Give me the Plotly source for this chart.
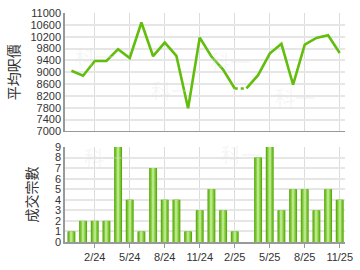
import plotly.graph_objects as go

months = ["12/23", "1/24", "2/24", "3/24", "4/24", "5/24", "6/24", "7/24", "8/24", "9/24",
          "10/24", "11/24", "12/24", "1/25", "2/25", "3/25", "4/25", "5/25", "6/25", "7/25",
          "8/25", "9/25", "10/25", "11/25"]
avg_price = [9050, 8880, 9380, 9380, 9780, 9480, 10680, 9540, 10000, 9550,
             7780, 10170, 9530, 9090, 8450, 8450, 8900, 9630, 9960, 8580,
             9930, 10160, 10250, 9650]
volume = [1, 2, 2, 2, 9, 4, 1, 7, 4, 4, 1, 3, 5, 3, 1, 0, 8, 9, 3, 5, 5, 3, 5, 4]
tick_labels = ["2/24", "5/24", "8/24", "11/24", "2/25", "5/25", "8/25", "11/25"]
price_ticks = [7000, 7400, 7800, 8200, 8600, 9000, 9400, 9800, 10200, 10600, 11000]
vol_ticks = list(range(10))
gap_index = 15  # month without transactions: price carried forward, dotted

x = list(range(len(months)))
tickvals = [months.index(t) for t in tick_labels]

LINE = "#62bd0c"
fig = go.Figure()

# price line (solid parts + dotted carried-forward segment)
fig.add_trace(go.Scatter(x=x[:gap_index], y=avg_price[:gap_index], mode="lines",
                         line=dict(color=LINE, width=2.6), xaxis="x", yaxis="y", showlegend=False))
fig.add_trace(go.Scatter(x=x[gap_index - 1:gap_index + 1], y=avg_price[gap_index - 1:gap_index + 1],
                         mode="lines", line=dict(color=LINE, width=2.6, dash="dot"),
                         xaxis="x", yaxis="y", showlegend=False))
fig.add_trace(go.Scatter(x=x[gap_index:], y=avg_price[gap_index:], mode="lines",
                         line=dict(color=LINE, width=2.6), xaxis="x", yaxis="y", showlegend=False))

# volume bars with simulated gradient
for w, c in [(0.68, "#5aaa10"), (0.5, "#79c530"), (0.3, "#9ad85c"), (0.12, "#b8e88a")]:
    fig.add_trace(go.Bar(x=x, y=volume, width=w, marker=dict(color=c, line=dict(width=0)),
                         xaxis="x2", yaxis="y2", showlegend=False, hoverinfo="skip"))

# faint watermarks
wm = dict(font=dict(family="Noto Sans CJK TC", size=20, color="rgba(225,225,225,0.3)"),
          showarrow=False)
annotations = [
    dict(text="科一", xref="paper", yref="paper", x=0.03, y=0.88, **wm),
    dict(text="科一", xref="paper", yref="paper", x=0.30, y=0.66, **wm),
    dict(text="科一", xref="paper", yref="paper", x=0.59, y=0.86, **wm),
    dict(text="科一", xref="paper", yref="paper", x=0.90, y=0.63, **wm),
    dict(text="科一", xref="paper", yref="paper", x=0.06, y=0.37, **wm),
    dict(text="科一", xref="paper", yref="paper", x=0.63, y=0.38, **wm),
]

axis_font = dict(family="Liberation Sans, Arial", size=11, color="#333")
title_font = dict(family="Noto Sans CJK TC", size=14, color="#333")
xr = [-0.55, 23.45]

fig.update_layout(
    width=360, height=270,
    margin=dict(l=65, r=7, t=7, b=27),
    paper_bgcolor="white", plot_bgcolor="white",
    barmode="overlay",
    annotations=annotations,
    xaxis=dict(domain=[0, 1], anchor="y", range=xr, tickvals=tickvals, showticklabels=False,
               showgrid=True, gridcolor="#dcdcdc", gridwidth=1, zeroline=False,
               showline=True, linecolor="#999", linewidth=1, ticks=""),
    yaxis=dict(domain=[0.483, 1], range=[7000, 11000], tickvals=price_ticks,
               ticktext=[str(v) for v in price_ticks],
               showgrid=True, gridcolor="#e6e6e6", gridwidth=2, zeroline=False,
               showline=True, linecolor="#999", linewidth=1.5, ticks="", tickfont=axis_font,
               title=dict(text="平均呎價", font=title_font, standoff=8)),
    xaxis2=dict(domain=[0, 1], anchor="y2", range=xr, tickvals=tickvals, ticktext=tick_labels,
                ticklabeloverflow="allow",
                showgrid=True, gridcolor="#dcdcdc", gridwidth=1, zeroline=False,
                showline=True, linecolor="#999", linewidth=1.5, ticks="outside", ticklen=4,
                tickcolor="#999", tickfont=axis_font),
    yaxis2=dict(domain=[0, 0.415], range=[0, 9], tickvals=vol_ticks,
                showgrid=True, gridcolor="#e6e6e6", gridwidth=2, zeroline=False,
                showline=True, linecolor="#999", linewidth=1.5, ticks="", tickfont=axis_font,
                title=dict(text="成交宗數", font=title_font, standoff=14)),
)

fig.write_html("out.html")
